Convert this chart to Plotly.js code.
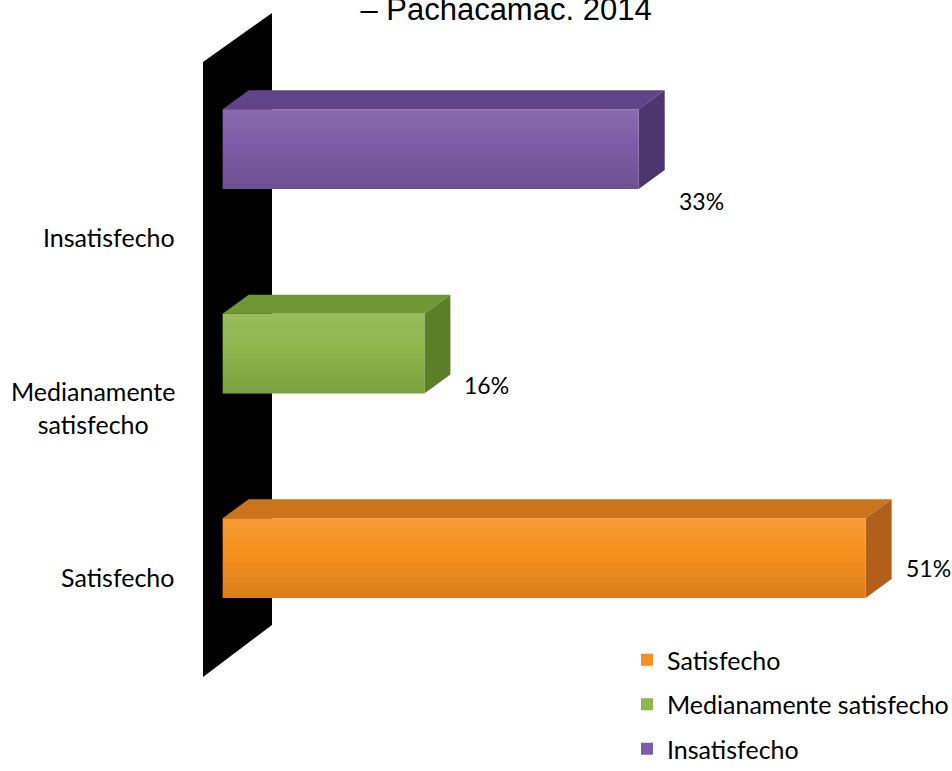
<!DOCTYPE html>
<html>
<head>
<meta charset="utf-8">
<script src="https://cdn.plot.ly/plotly-3.0.1.min.js"></script>
<style>html,body{margin:0;padding:0;background:#fff;}#chart{width:952px;height:771px;}</style>
</head>
<body>
<div id="chart"></div>
<script>
// ---- data ----
const categories = ['Satisfecho', 'Medianamente satisfecho', 'Insatisfecho'];
const catTickLabels = ['Satisfecho', 'Medianamente<br>satisfecho', 'Insatisfecho'];
const values = [51, 16, 33];
const valueLabels = ['51%', '16%', '33%'];
const titleText = '– Pachacamac. 2014';

// ---- style ----
const frontColors = ['#f6901f', '#8db64b', '#7d5ba6'];
const topColors   = ['#cb731d', '#6f9834', '#604489'];
const sideColors  = ['#b0601a', '#5b7f27', '#4d356f'];
const W = 952, H = 771;
const M = {l: 200, r: 12, t: 10, b: 91, autoexpand: false};
const PW = W - M.l - M.r, PH = H - M.t - M.b;
const XR = [-1.8, 56.9];
const YR = [-0.5966, 2.680];
const BAR_W = 0.39;
const pxX = PW / (XR[1] - XR[0]);
const pxY = PH / (YR[1] - YR[0]);
const DX = 26 / pxX;    // depth offset (x units)
const DY = 19 / pxY;    // depth offset (y units)
const FONT = 'Lato, "Open Sans", sans-serif';
const FS = 25;
const FS_VAL = 23;

// perspective placement of category and value labels relative to bar index
const CAT_PERSP = {scale: 0.831, offset: -0.093};
const VAL_PERSP = {scale: 0.897, offset: -0.050};

const paperX = px => (px - M.l) / PW;
const paperY = py => 1 - (py - M.t) / PH;

const traces = categories.map((c, i) => ({
  type: 'bar', orientation: 'h',
  x: [values[i]], y: [i], width: BAR_W,
  name: c, legendgroup: 'g' + i,
  marker: {color: frontColors[i], line: {width: 0}},
  hoverinfo: 'x+name'
}));

const shapes = [];
// back wall (decorative)
const wall = [[203, 62], [272, 13], [272, 625], [203, 677]];
shapes.push({
  type: 'path', xref: 'paper', yref: 'paper', layer: 'below',
  path: 'M' + wall.map(p => paperX(p[0]) + ',' + paperY(p[1])).join(' L') + ' Z',
  fillcolor: '#000', line: {width: 0}
});
const NSTRIP = 16;
values.forEach((v, i) => {
  const yt = i + BAR_W / 2, yb = i - BAR_W / 2;
  // top face
  shapes.push({
    type: 'path', xref: 'x', yref: 'y', layer: 'below',
    path: `M0,${yt} L${v},${yt} L${v + DX},${yt + DY} L${DX},${yt + DY} Z`,
    fillcolor: topColors[i], line: {width: 0}
  });
  // side face
  shapes.push({
    type: 'path', xref: 'x', yref: 'y', layer: 'below',
    path: `M${v},${yt} L${v + DX},${yt + DY} L${v + DX},${yb + DY} L${v},${yb} Z`,
    fillcolor: sideColors[i], line: {width: 0}
  });
  // soft vertical shading of the front face
  for (let k = 0; k < NSTRIP; k++) {
    const t = (k + 0.5) / NSTRIP;            // 0 top -> 1 bottom
    const a = 0.10 - 0.22 * t;               // + light, - dark
    const col = a >= 0 ? `rgba(255,255,255,${a.toFixed(3)})` : `rgba(0,0,0,${(-a).toFixed(3)})`;
    shapes.push({
      type: 'rect', xref: 'x', yref: 'y', layer: 'above',
      x0: 0, x1: v, y0: yt - BAR_W * (k + 1) / NSTRIP, y1: yt - BAR_W * k / NSTRIP,
      fillcolor: col, line: {width: 0}
    });
  }
});

const annotations = [];
catTickLabels.forEach((t, i) => {
  annotations.push({
    xref: 'paper', yref: 'y', x: paperX(177), y: i * CAT_PERSP.scale + CAT_PERSP.offset,
    xanchor: 'right', yanchor: 'middle', align: 'center', showarrow: false,
    text: t, font: {family: FONT, size: FS, color: '#000'}
  });
});
valueLabels.forEach((t, i) => {
  annotations.push({
    xref: 'x', yref: 'y', x: values[i], y: i * VAL_PERSP.scale + VAL_PERSP.offset,
    xanchor: 'left', yanchor: 'middle', xshift: 38, showarrow: false,
    text: t, font: {family: FONT, size: FS_VAL, color: '#000'}
  });
});

const layout = {
  width: W, height: H, margin: M,
  paper_bgcolor: '#fff', plot_bgcolor: '#fff',
  title: {text: titleText, x: 506 / W, xref: 'container', xanchor: 'center',
          y: 1 - 9 / H, yref: 'container', yanchor: 'middle',
          font: {family: '"Liberation Sans", Arial, sans-serif', size: 31, color: '#000'}},
  barmode: 'overlay',
  xaxis: {range: XR, visible: false, fixedrange: true},
  yaxis: {range: YR, visible: false, fixedrange: true},
  showlegend: true,
  legend: {x: paperX(627), xanchor: 'left', y: paperY(637), yanchor: 'top',
           traceorder: 'grouped', tracegroupgap: 9,
           font: {family: FONT, size: FS, color: '#000'}, bgcolor: 'rgba(0,0,0,0)'},
  shapes: shapes, annotations: annotations
};

Plotly.newPlot('chart', traces, layout, {displayModeBar: false, staticPlot: true});
</script>
</body>
</html>
